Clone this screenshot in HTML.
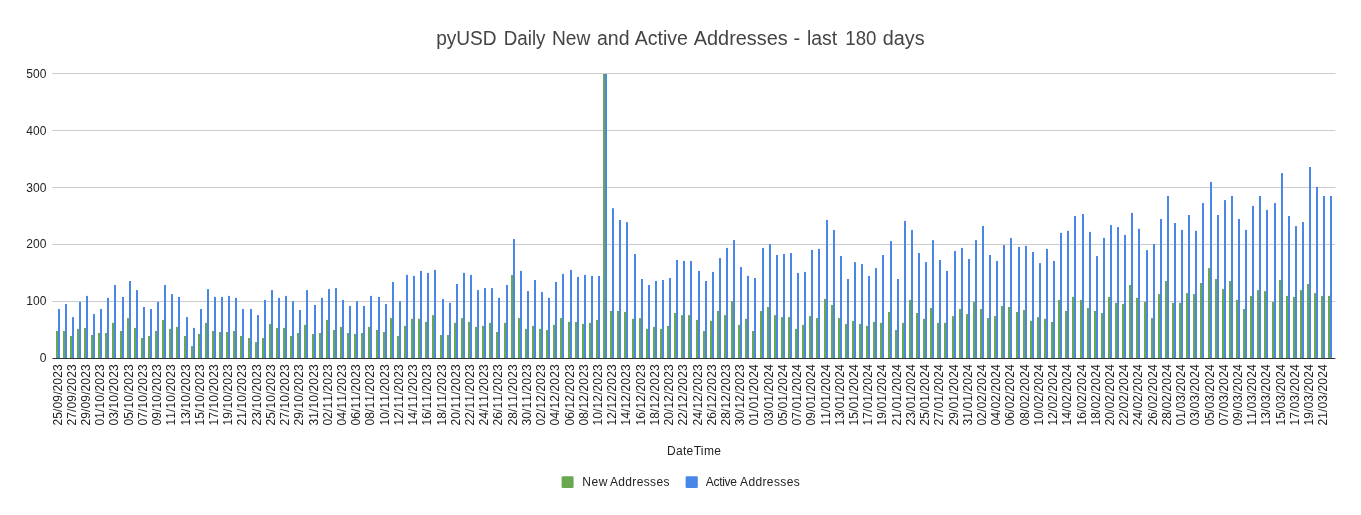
<!DOCTYPE html>
<html><head><meta charset="utf-8"><title>pyUSD Daily New and Active Addresses</title>
<style>html,body{margin:0;padding:0;background:#fff;overflow:hidden}svg{display:block}text{font-family:"Liberation Sans",Arial,sans-serif}</style></head><body>
<svg width="1361" height="515" viewBox="0 0 1361 515">
<rect width="1361" height="515" fill="#ffffff"/>
<text y="44.8" font-size="20" fill="#444444"><tspan x="436.16" textLength="60.49" lengthAdjust="spacingAndGlyphs">pyUSD</tspan> <tspan x="503.81" textLength="41.63" lengthAdjust="spacingAndGlyphs">Daily</tspan> <tspan x="551.88" textLength="38.38" lengthAdjust="spacingAndGlyphs">New</tspan> <tspan x="597.01" textLength="32.53" lengthAdjust="spacingAndGlyphs">and</tspan> <tspan x="634.63" textLength="53.25" lengthAdjust="spacingAndGlyphs">Active</tspan> <tspan x="693.75" textLength="93.94" lengthAdjust="spacingAndGlyphs">Addresses</tspan> <tspan x="793.54" textLength="6.67" lengthAdjust="spacingAndGlyphs">-</tspan> <tspan x="806.94" textLength="30.18" lengthAdjust="spacingAndGlyphs">last</tspan> <tspan x="845.35" textLength="31.05" lengthAdjust="spacingAndGlyphs">180</tspan> <tspan x="882.72" textLength="41.85" lengthAdjust="spacingAndGlyphs">days</tspan></text>
<g fill="#cccccc">
<rect x="52.4" y="301" width="1283" height="1"/>
<rect x="52.4" y="244" width="1283" height="1"/>
<rect x="52.4" y="187" width="1283" height="1"/>
<rect x="52.4" y="130" width="1283" height="1"/>
<rect x="52.4" y="73" width="1283" height="1"/>
</g>
<g fill="#6aa84f">
<rect x="56" y="331.0" width="2" height="27.5"/>
<rect x="63" y="331.0" width="2" height="27.5"/>
<rect x="70" y="336.0" width="2" height="22.5"/>
<rect x="77" y="328.9" width="2" height="29.6"/>
<rect x="84" y="327.9" width="2" height="30.6"/>
<rect x="91" y="335.0" width="2" height="23.5"/>
<rect x="98" y="333.0" width="2" height="25.5"/>
<rect x="105" y="333.0" width="2" height="25.5"/>
<rect x="112" y="322.9" width="2" height="35.6"/>
<rect x="120" y="331.0" width="2" height="27.5"/>
<rect x="127" y="318.1" width="2" height="40.4"/>
<rect x="134" y="327.9" width="2" height="30.6"/>
<rect x="141" y="338.0" width="2" height="20.5"/>
<rect x="148" y="336.0" width="2" height="22.5"/>
<rect x="155" y="331.0" width="2" height="27.5"/>
<rect x="162" y="319.9" width="2" height="38.6"/>
<rect x="169" y="328.9" width="2" height="29.6"/>
<rect x="176" y="326.9" width="2" height="31.6"/>
<rect x="184" y="336.0" width="2" height="22.5"/>
<rect x="191" y="346.1" width="2" height="12.4"/>
<rect x="198" y="334.0" width="2" height="24.5"/>
<rect x="205" y="322.9" width="2" height="35.6"/>
<rect x="212" y="331.0" width="2" height="27.5"/>
<rect x="219" y="332.0" width="2" height="26.5"/>
<rect x="226" y="332.0" width="2" height="26.5"/>
<rect x="233" y="331.0" width="2" height="27.5"/>
<rect x="240" y="336.0" width="2" height="22.5"/>
<rect x="248" y="338.0" width="2" height="20.5"/>
<rect x="255" y="342.1" width="2" height="16.4"/>
<rect x="262" y="338.0" width="2" height="20.5"/>
<rect x="269" y="323.9" width="2" height="34.6"/>
<rect x="276" y="327.9" width="2" height="30.6"/>
<rect x="283" y="327.9" width="2" height="30.6"/>
<rect x="290" y="336.0" width="2" height="22.5"/>
<rect x="297" y="333.0" width="2" height="25.5"/>
<rect x="304" y="324.9" width="2" height="33.6"/>
<rect x="312" y="334.0" width="2" height="24.5"/>
<rect x="319" y="333.0" width="2" height="25.5"/>
<rect x="326" y="319.9" width="2" height="38.6"/>
<rect x="333" y="330.0" width="2" height="28.5"/>
<rect x="340" y="326.9" width="2" height="31.6"/>
<rect x="347" y="333.0" width="2" height="25.5"/>
<rect x="354" y="334.0" width="2" height="24.5"/>
<rect x="361" y="333.0" width="2" height="25.5"/>
<rect x="368" y="326.9" width="2" height="31.6"/>
<rect x="376" y="330.0" width="2" height="28.5"/>
<rect x="383" y="332.0" width="2" height="26.5"/>
<rect x="390" y="318.1" width="2" height="40.4"/>
<rect x="397" y="336.0" width="2" height="22.5"/>
<rect x="404" y="325.9" width="2" height="32.6"/>
<rect x="411" y="318.8" width="2" height="39.7"/>
<rect x="418" y="318.8" width="2" height="39.7"/>
<rect x="425" y="321.9" width="2" height="36.6"/>
<rect x="432" y="315.1" width="2" height="43.4"/>
<rect x="440" y="335.0" width="2" height="23.5"/>
<rect x="447" y="335.0" width="2" height="23.5"/>
<rect x="454" y="322.9" width="2" height="35.6"/>
<rect x="461" y="318.1" width="2" height="40.4"/>
<rect x="468" y="321.9" width="2" height="36.6"/>
<rect x="475" y="326.9" width="2" height="31.6"/>
<rect x="482" y="325.9" width="2" height="32.6"/>
<rect x="489" y="322.9" width="2" height="35.6"/>
<rect x="496" y="332.0" width="2" height="26.5"/>
<rect x="504" y="322.9" width="2" height="35.6"/>
<rect x="511" y="274.9" width="2" height="83.6"/>
<rect x="518" y="318.1" width="2" height="40.4"/>
<rect x="525" y="328.9" width="2" height="29.6"/>
<rect x="532" y="325.9" width="2" height="32.6"/>
<rect x="539" y="328.9" width="2" height="29.6"/>
<rect x="546" y="330.0" width="2" height="28.5"/>
<rect x="553" y="324.9" width="2" height="33.6"/>
<rect x="560" y="318.1" width="2" height="40.4"/>
<rect x="568" y="321.9" width="2" height="36.6"/>
<rect x="575" y="321.9" width="2" height="36.6"/>
<rect x="582" y="323.9" width="2" height="34.6"/>
<rect x="589" y="322.9" width="2" height="35.6"/>
<rect x="596" y="319.9" width="2" height="38.6"/>
<rect x="603" y="74" width="2" height="284.5"/>
<rect x="610" y="311.0" width="2" height="47.5"/>
<rect x="617" y="311.0" width="2" height="47.5"/>
<rect x="624" y="312.0" width="2" height="46.5"/>
<rect x="632" y="318.8" width="2" height="39.7"/>
<rect x="639" y="318.1" width="2" height="40.4"/>
<rect x="646" y="328.9" width="2" height="29.6"/>
<rect x="653" y="326.9" width="2" height="31.6"/>
<rect x="660" y="328.9" width="2" height="29.6"/>
<rect x="667" y="325.9" width="2" height="32.6"/>
<rect x="674" y="313.0" width="2" height="45.5"/>
<rect x="681" y="315.1" width="2" height="43.4"/>
<rect x="688" y="315.1" width="2" height="43.4"/>
<rect x="696" y="319.9" width="2" height="38.6"/>
<rect x="703" y="331.0" width="2" height="27.5"/>
<rect x="710" y="320.9" width="2" height="37.6"/>
<rect x="717" y="311.0" width="2" height="47.5"/>
<rect x="724" y="315.1" width="2" height="43.4"/>
<rect x="731" y="301.2" width="2" height="57.3"/>
<rect x="738" y="324.9" width="2" height="33.6"/>
<rect x="745" y="318.8" width="2" height="39.7"/>
<rect x="752" y="331.0" width="2" height="27.5"/>
<rect x="760" y="311.0" width="2" height="47.5"/>
<rect x="767" y="307.0" width="2" height="51.5"/>
<rect x="774" y="315.1" width="2" height="43.4"/>
<rect x="781" y="317.1" width="2" height="41.4"/>
<rect x="788" y="317.1" width="2" height="41.4"/>
<rect x="795" y="328.9" width="2" height="29.6"/>
<rect x="802" y="324.9" width="2" height="33.6"/>
<rect x="809" y="316.1" width="2" height="42.4"/>
<rect x="816" y="318.1" width="2" height="40.4"/>
<rect x="824" y="298.9" width="2" height="59.6"/>
<rect x="831" y="305.0" width="2" height="53.5"/>
<rect x="838" y="318.1" width="2" height="40.4"/>
<rect x="845" y="323.9" width="2" height="34.6"/>
<rect x="852" y="320.9" width="2" height="37.6"/>
<rect x="859" y="323.9" width="2" height="34.6"/>
<rect x="866" y="325.9" width="2" height="32.6"/>
<rect x="873" y="321.9" width="2" height="36.6"/>
<rect x="880" y="322.9" width="2" height="35.6"/>
<rect x="888" y="312.0" width="2" height="46.5"/>
<rect x="895" y="330.0" width="2" height="28.5"/>
<rect x="902" y="322.9" width="2" height="35.6"/>
<rect x="909" y="299.9" width="2" height="58.6"/>
<rect x="916" y="313.0" width="2" height="45.5"/>
<rect x="923" y="318.8" width="2" height="39.7"/>
<rect x="930" y="308.0" width="2" height="50.5"/>
<rect x="937" y="322.9" width="2" height="35.6"/>
<rect x="944" y="322.9" width="2" height="35.6"/>
<rect x="952" y="316.1" width="2" height="42.4"/>
<rect x="959" y="309.0" width="2" height="49.5"/>
<rect x="966" y="314.1" width="2" height="44.4"/>
<rect x="973" y="301.9" width="2" height="56.6"/>
<rect x="980" y="309.0" width="2" height="49.5"/>
<rect x="987" y="318.1" width="2" height="40.4"/>
<rect x="994" y="316.1" width="2" height="42.4"/>
<rect x="1001" y="306.0" width="2" height="52.5"/>
<rect x="1008" y="307.0" width="2" height="51.5"/>
<rect x="1016" y="312.0" width="2" height="46.5"/>
<rect x="1023" y="310.0" width="2" height="48.5"/>
<rect x="1030" y="320.9" width="2" height="37.6"/>
<rect x="1037" y="317.1" width="2" height="41.4"/>
<rect x="1044" y="318.8" width="2" height="39.7"/>
<rect x="1051" y="321.9" width="2" height="36.6"/>
<rect x="1058" y="299.9" width="2" height="58.6"/>
<rect x="1065" y="311.0" width="2" height="47.5"/>
<rect x="1072" y="296.9" width="2" height="61.6"/>
<rect x="1080" y="299.9" width="2" height="58.6"/>
<rect x="1087" y="308.0" width="2" height="50.5"/>
<rect x="1094" y="311.0" width="2" height="47.5"/>
<rect x="1101" y="313.0" width="2" height="45.5"/>
<rect x="1108" y="296.9" width="2" height="61.6"/>
<rect x="1115" y="302.9" width="2" height="55.6"/>
<rect x="1122" y="304.0" width="2" height="54.5"/>
<rect x="1129" y="285.0" width="2" height="73.5"/>
<rect x="1136" y="297.9" width="2" height="60.6"/>
<rect x="1144" y="301.9" width="2" height="56.6"/>
<rect x="1151" y="318.1" width="2" height="40.4"/>
<rect x="1158" y="294.1" width="2" height="64.4"/>
<rect x="1165" y="281.0" width="2" height="77.5"/>
<rect x="1172" y="302.9" width="2" height="55.6"/>
<rect x="1179" y="302.9" width="2" height="55.6"/>
<rect x="1186" y="293.1" width="2" height="65.4"/>
<rect x="1193" y="294.1" width="2" height="64.4"/>
<rect x="1200" y="283.0" width="2" height="75.5"/>
<rect x="1208" y="268.1" width="2" height="90.4"/>
<rect x="1215" y="279.0" width="2" height="79.5"/>
<rect x="1222" y="289.1" width="2" height="69.4"/>
<rect x="1229" y="281.0" width="2" height="77.5"/>
<rect x="1236" y="299.9" width="2" height="58.6"/>
<rect x="1243" y="309.0" width="2" height="49.5"/>
<rect x="1250" y="295.9" width="2" height="62.6"/>
<rect x="1257" y="290.1" width="2" height="68.4"/>
<rect x="1264" y="291.1" width="2" height="67.4"/>
<rect x="1272" y="301.9" width="2" height="56.6"/>
<rect x="1279" y="280.0" width="2" height="78.5"/>
<rect x="1286" y="295.9" width="2" height="62.6"/>
<rect x="1293" y="296.9" width="2" height="61.6"/>
<rect x="1300" y="290.1" width="2" height="68.4"/>
<rect x="1307" y="284.0" width="2" height="74.5"/>
<rect x="1314" y="293.1" width="2" height="65.4"/>
<rect x="1321" y="295.9" width="2" height="62.6"/>
<rect x="1328" y="295.9" width="2" height="62.6"/>
</g>
<g fill="#4a86e8">
<rect x="58" y="309.0" width="2" height="49.5"/>
<rect x="65" y="304.0" width="2" height="54.5"/>
<rect x="72" y="317.1" width="2" height="41.4"/>
<rect x="79" y="301.9" width="2" height="56.6"/>
<rect x="86" y="295.9" width="2" height="62.6"/>
<rect x="93" y="314.1" width="2" height="44.4"/>
<rect x="100" y="309.0" width="2" height="49.5"/>
<rect x="107" y="297.9" width="2" height="60.6"/>
<rect x="114" y="285.0" width="2" height="73.5"/>
<rect x="122" y="296.9" width="2" height="61.6"/>
<rect x="129" y="281.0" width="2" height="77.5"/>
<rect x="136" y="290.1" width="2" height="68.4"/>
<rect x="143" y="307.0" width="2" height="51.5"/>
<rect x="150" y="309.0" width="2" height="49.5"/>
<rect x="157" y="301.9" width="2" height="56.6"/>
<rect x="164" y="285.0" width="2" height="73.5"/>
<rect x="171" y="294.1" width="2" height="64.4"/>
<rect x="178" y="296.9" width="2" height="61.6"/>
<rect x="186" y="317.1" width="2" height="41.4"/>
<rect x="193" y="327.9" width="2" height="30.6"/>
<rect x="200" y="309.0" width="2" height="49.5"/>
<rect x="207" y="289.1" width="2" height="69.4"/>
<rect x="214" y="296.9" width="2" height="61.6"/>
<rect x="221" y="296.9" width="2" height="61.6"/>
<rect x="228" y="295.9" width="2" height="62.6"/>
<rect x="235" y="297.9" width="2" height="60.6"/>
<rect x="242" y="309.0" width="2" height="49.5"/>
<rect x="250" y="309.0" width="2" height="49.5"/>
<rect x="257" y="315.1" width="2" height="43.4"/>
<rect x="264" y="299.9" width="2" height="58.6"/>
<rect x="271" y="290.1" width="2" height="68.4"/>
<rect x="278" y="297.9" width="2" height="60.6"/>
<rect x="285" y="295.9" width="2" height="62.6"/>
<rect x="292" y="301.2" width="2" height="57.3"/>
<rect x="299" y="310.0" width="2" height="48.5"/>
<rect x="306" y="290.1" width="2" height="68.4"/>
<rect x="314" y="305.0" width="2" height="53.5"/>
<rect x="321" y="297.9" width="2" height="60.6"/>
<rect x="328" y="289.1" width="2" height="69.4"/>
<rect x="335" y="288.1" width="2" height="70.4"/>
<rect x="342" y="299.9" width="2" height="58.6"/>
<rect x="349" y="306.0" width="2" height="52.5"/>
<rect x="356" y="301.2" width="2" height="57.3"/>
<rect x="363" y="306.0" width="2" height="52.5"/>
<rect x="370" y="295.9" width="2" height="62.6"/>
<rect x="378" y="296.9" width="2" height="61.6"/>
<rect x="385" y="304.0" width="2" height="54.5"/>
<rect x="392" y="282.0" width="2" height="76.5"/>
<rect x="399" y="301.2" width="2" height="57.3"/>
<rect x="406" y="274.9" width="2" height="83.6"/>
<rect x="413" y="275.9" width="2" height="82.6"/>
<rect x="420" y="270.9" width="2" height="87.6"/>
<rect x="427" y="272.9" width="2" height="85.6"/>
<rect x="434" y="269.9" width="2" height="88.6"/>
<rect x="442" y="298.9" width="2" height="59.6"/>
<rect x="449" y="302.9" width="2" height="55.6"/>
<rect x="456" y="284.0" width="2" height="74.5"/>
<rect x="463" y="272.9" width="2" height="85.6"/>
<rect x="470" y="274.9" width="2" height="83.6"/>
<rect x="477" y="290.1" width="2" height="68.4"/>
<rect x="484" y="288.1" width="2" height="70.4"/>
<rect x="491" y="288.1" width="2" height="70.4"/>
<rect x="498" y="297.9" width="2" height="60.6"/>
<rect x="506" y="285.0" width="2" height="73.5"/>
<rect x="513" y="239.1" width="2" height="119.4"/>
<rect x="520" y="270.9" width="2" height="87.6"/>
<rect x="527" y="291.1" width="2" height="67.4"/>
<rect x="534" y="280.0" width="2" height="78.5"/>
<rect x="541" y="292.1" width="2" height="66.4"/>
<rect x="548" y="297.9" width="2" height="60.6"/>
<rect x="555" y="282.0" width="2" height="76.5"/>
<rect x="562" y="273.9" width="2" height="84.6"/>
<rect x="570" y="269.9" width="2" height="88.6"/>
<rect x="577" y="276.9" width="2" height="81.6"/>
<rect x="584" y="274.9" width="2" height="83.6"/>
<rect x="591" y="275.9" width="2" height="82.6"/>
<rect x="598" y="275.9" width="2" height="82.6"/>
<rect x="605" y="74" width="2" height="284.5"/>
<rect x="612" y="208.2" width="2" height="150.3"/>
<rect x="619" y="220.0" width="2" height="138.5"/>
<rect x="626" y="222.2" width="2" height="136.3"/>
<rect x="634" y="254.0" width="2" height="104.5"/>
<rect x="641" y="279.0" width="2" height="79.5"/>
<rect x="648" y="285.0" width="2" height="73.5"/>
<rect x="655" y="281.0" width="2" height="77.5"/>
<rect x="662" y="280.0" width="2" height="78.5"/>
<rect x="669" y="278.0" width="2" height="80.5"/>
<rect x="676" y="260.0" width="2" height="98.5"/>
<rect x="683" y="261.0" width="2" height="97.5"/>
<rect x="690" y="261.0" width="2" height="97.5"/>
<rect x="698" y="270.9" width="2" height="87.6"/>
<rect x="705" y="281.0" width="2" height="77.5"/>
<rect x="712" y="271.9" width="2" height="86.6"/>
<rect x="719" y="258.0" width="2" height="100.5"/>
<rect x="726" y="247.9" width="2" height="110.6"/>
<rect x="733" y="240.1" width="2" height="118.4"/>
<rect x="740" y="267.1" width="2" height="91.4"/>
<rect x="747" y="275.9" width="2" height="82.6"/>
<rect x="754" y="278.0" width="2" height="80.5"/>
<rect x="762" y="247.9" width="2" height="110.6"/>
<rect x="769" y="244.1" width="2" height="114.4"/>
<rect x="776" y="255.0" width="2" height="103.5"/>
<rect x="783" y="254.0" width="2" height="104.5"/>
<rect x="790" y="253.0" width="2" height="105.5"/>
<rect x="797" y="272.9" width="2" height="85.6"/>
<rect x="804" y="271.9" width="2" height="86.6"/>
<rect x="811" y="249.9" width="2" height="108.6"/>
<rect x="818" y="248.9" width="2" height="109.6"/>
<rect x="826" y="219.9" width="2" height="138.6"/>
<rect x="833" y="230.0" width="2" height="128.5"/>
<rect x="840" y="256.0" width="2" height="102.5"/>
<rect x="847" y="279.0" width="2" height="79.5"/>
<rect x="854" y="262.1" width="2" height="96.4"/>
<rect x="861" y="264.1" width="2" height="94.4"/>
<rect x="868" y="275.9" width="2" height="82.6"/>
<rect x="875" y="268.1" width="2" height="90.4"/>
<rect x="882" y="255.0" width="2" height="103.5"/>
<rect x="890" y="241.1" width="2" height="117.4"/>
<rect x="897" y="279.0" width="2" height="79.5"/>
<rect x="904" y="220.9" width="2" height="137.6"/>
<rect x="911" y="230.0" width="2" height="128.5"/>
<rect x="918" y="253.0" width="2" height="105.5"/>
<rect x="925" y="262.1" width="2" height="96.4"/>
<rect x="932" y="240.1" width="2" height="118.4"/>
<rect x="939" y="260.0" width="2" height="98.5"/>
<rect x="946" y="270.9" width="2" height="87.6"/>
<rect x="954" y="251.0" width="2" height="107.5"/>
<rect x="961" y="247.9" width="2" height="110.6"/>
<rect x="968" y="259.0" width="2" height="99.5"/>
<rect x="975" y="240.1" width="2" height="118.4"/>
<rect x="982" y="226.0" width="2" height="132.5"/>
<rect x="989" y="255.0" width="2" height="103.5"/>
<rect x="996" y="261.0" width="2" height="97.5"/>
<rect x="1003" y="245.1" width="2" height="113.4"/>
<rect x="1010" y="238.1" width="2" height="120.4"/>
<rect x="1018" y="246.9" width="2" height="111.6"/>
<rect x="1025" y="245.9" width="2" height="112.6"/>
<rect x="1032" y="252.0" width="2" height="106.5"/>
<rect x="1039" y="263.1" width="2" height="95.4"/>
<rect x="1046" y="248.9" width="2" height="109.6"/>
<rect x="1053" y="261.0" width="2" height="97.5"/>
<rect x="1060" y="232.9" width="2" height="125.6"/>
<rect x="1067" y="230.9" width="2" height="127.6"/>
<rect x="1074" y="216.0" width="2" height="142.5"/>
<rect x="1082" y="214.0" width="2" height="144.5"/>
<rect x="1089" y="231.9" width="2" height="126.6"/>
<rect x="1096" y="256.1" width="2" height="102.4"/>
<rect x="1103" y="237.9" width="2" height="120.6"/>
<rect x="1110" y="225.1" width="2" height="133.4"/>
<rect x="1117" y="227.1" width="2" height="131.4"/>
<rect x="1124" y="234.9" width="2" height="123.6"/>
<rect x="1131" y="212.9" width="2" height="145.6"/>
<rect x="1138" y="228.8" width="2" height="129.7"/>
<rect x="1146" y="250.1" width="2" height="108.4"/>
<rect x="1153" y="244.0" width="2" height="114.5"/>
<rect x="1160" y="219.0" width="2" height="139.5"/>
<rect x="1167" y="196.0" width="2" height="162.5"/>
<rect x="1174" y="223.0" width="2" height="135.5"/>
<rect x="1181" y="229.9" width="2" height="128.6"/>
<rect x="1188" y="215.0" width="2" height="143.5"/>
<rect x="1195" y="230.9" width="2" height="127.6"/>
<rect x="1202" y="203.1" width="2" height="155.4"/>
<rect x="1210" y="181.9" width="2" height="176.6"/>
<rect x="1217" y="215.0" width="2" height="143.5"/>
<rect x="1224" y="200.1" width="2" height="158.4"/>
<rect x="1231" y="196.0" width="2" height="162.5"/>
<rect x="1238" y="219.0" width="2" height="139.5"/>
<rect x="1245" y="229.9" width="2" height="128.6"/>
<rect x="1252" y="205.9" width="2" height="152.6"/>
<rect x="1259" y="196.0" width="2" height="162.5"/>
<rect x="1266" y="209.9" width="2" height="148.6"/>
<rect x="1274" y="203.1" width="2" height="155.4"/>
<rect x="1281" y="173.1" width="2" height="185.4"/>
<rect x="1288" y="216.0" width="2" height="142.5"/>
<rect x="1295" y="226.1" width="2" height="132.4"/>
<rect x="1302" y="222.0" width="2" height="136.5"/>
<rect x="1309" y="167.0" width="2" height="191.5"/>
<rect x="1316" y="186.9" width="2" height="171.6"/>
<rect x="1323" y="196.0" width="2" height="162.5"/>
<rect x="1330" y="196.0" width="2" height="162.5"/>
</g>
<rect x="52.4" y="358" width="1283" height="1" fill="#333333"/>
<g font-size="12" fill="#222222" text-anchor="end">
<text x="46.4" y="362.2">0</text>
<text x="46.4" y="305.2">100</text>
<text x="46.4" y="248.2">200</text>
<text x="46.4" y="192.2">300</text>
<text x="46.4" y="135.2">400</text>
<text x="46.4" y="78.2">500</text>
</g>
<g font-size="12" fill="#222222" letter-spacing="0.11" style="font-kerning:none">
<text transform="translate(62.3 425.45) rotate(-90)">25/09/2023</text>
<text transform="translate(76.3 425.45) rotate(-90)">27/09/2023</text>
<text transform="translate(90.3 425.45) rotate(-90)">29/09/2023</text>
<text transform="translate(104.3 425.45) rotate(-90)">01/10/2023</text>
<text transform="translate(118.3 425.45) rotate(-90)">03/10/2023</text>
<text transform="translate(133.3 425.45) rotate(-90)">05/10/2023</text>
<text transform="translate(147.3 425.45) rotate(-90)">07/10/2023</text>
<text transform="translate(161.3 425.45) rotate(-90)">09/10/2023</text>
<text transform="translate(175.3 425.45) rotate(-90)">11/10/2023</text>
<text transform="translate(190.3 425.45) rotate(-90)">13/10/2023</text>
<text transform="translate(204.3 425.45) rotate(-90)">15/10/2023</text>
<text transform="translate(218.3 425.45) rotate(-90)">17/10/2023</text>
<text transform="translate(232.3 425.45) rotate(-90)">19/10/2023</text>
<text transform="translate(246.3 425.45) rotate(-90)">21/10/2023</text>
<text transform="translate(261.3 425.45) rotate(-90)">23/10/2023</text>
<text transform="translate(275.3 425.45) rotate(-90)">25/10/2023</text>
<text transform="translate(289.3 425.45) rotate(-90)">27/10/2023</text>
<text transform="translate(303.3 425.45) rotate(-90)">29/10/2023</text>
<text transform="translate(318.3 425.45) rotate(-90)">31/10/2023</text>
<text transform="translate(332.3 425.45) rotate(-90)">02/11/2023</text>
<text transform="translate(346.3 425.45) rotate(-90)">04/11/2023</text>
<text transform="translate(360.3 425.45) rotate(-90)">06/11/2023</text>
<text transform="translate(374.3 425.45) rotate(-90)">08/11/2023</text>
<text transform="translate(389.3 425.45) rotate(-90)">10/11/2023</text>
<text transform="translate(403.3 425.45) rotate(-90)">12/11/2023</text>
<text transform="translate(417.3 425.45) rotate(-90)">14/11/2023</text>
<text transform="translate(431.3 425.45) rotate(-90)">16/11/2023</text>
<text transform="translate(446.3 425.45) rotate(-90)">18/11/2023</text>
<text transform="translate(460.3 425.45) rotate(-90)">20/11/2023</text>
<text transform="translate(474.3 425.45) rotate(-90)">22/11/2023</text>
<text transform="translate(488.3 425.45) rotate(-90)">24/11/2023</text>
<text transform="translate(502.3 425.45) rotate(-90)">26/11/2023</text>
<text transform="translate(517.3 425.45) rotate(-90)">28/11/2023</text>
<text transform="translate(531.3 425.45) rotate(-90)">30/11/2023</text>
<text transform="translate(545.3 425.45) rotate(-90)">02/12/2023</text>
<text transform="translate(559.3 425.45) rotate(-90)">04/12/2023</text>
<text transform="translate(574.3 425.45) rotate(-90)">06/12/2023</text>
<text transform="translate(588.3 425.45) rotate(-90)">08/12/2023</text>
<text transform="translate(602.3 425.45) rotate(-90)">10/12/2023</text>
<text transform="translate(616.3 425.45) rotate(-90)">12/12/2023</text>
<text transform="translate(630.3 425.45) rotate(-90)">14/12/2023</text>
<text transform="translate(645.3 425.45) rotate(-90)">16/12/2023</text>
<text transform="translate(659.3 425.45) rotate(-90)">18/12/2023</text>
<text transform="translate(673.3 425.45) rotate(-90)">20/12/2023</text>
<text transform="translate(687.3 425.45) rotate(-90)">22/12/2023</text>
<text transform="translate(702.3 425.45) rotate(-90)">24/12/2023</text>
<text transform="translate(716.3 425.45) rotate(-90)">26/12/2023</text>
<text transform="translate(730.3 425.45) rotate(-90)">28/12/2023</text>
<text transform="translate(744.3 425.45) rotate(-90)">30/12/2023</text>
<text transform="translate(758.3 425.45) rotate(-90)">01/01/2024</text>
<text transform="translate(773.3 425.45) rotate(-90)">03/01/2024</text>
<text transform="translate(787.3 425.45) rotate(-90)">05/01/2024</text>
<text transform="translate(801.3 425.45) rotate(-90)">07/01/2024</text>
<text transform="translate(815.3 425.45) rotate(-90)">09/01/2024</text>
<text transform="translate(830.3 425.45) rotate(-90)">11/01/2024</text>
<text transform="translate(844.3 425.45) rotate(-90)">13/01/2024</text>
<text transform="translate(858.3 425.45) rotate(-90)">15/01/2024</text>
<text transform="translate(872.3 425.45) rotate(-90)">17/01/2024</text>
<text transform="translate(886.3 425.45) rotate(-90)">19/01/2024</text>
<text transform="translate(901.3 425.45) rotate(-90)">21/01/2024</text>
<text transform="translate(915.3 425.45) rotate(-90)">23/01/2024</text>
<text transform="translate(929.3 425.45) rotate(-90)">25/01/2024</text>
<text transform="translate(943.3 425.45) rotate(-90)">27/01/2024</text>
<text transform="translate(958.3 425.45) rotate(-90)">29/01/2024</text>
<text transform="translate(972.3 425.45) rotate(-90)">31/01/2024</text>
<text transform="translate(986.3 425.45) rotate(-90)">02/02/2024</text>
<text transform="translate(1000.3 425.45) rotate(-90)">04/02/2024</text>
<text transform="translate(1014.3 425.45) rotate(-90)">06/02/2024</text>
<text transform="translate(1029.3 425.45) rotate(-90)">08/02/2024</text>
<text transform="translate(1043.3 425.45) rotate(-90)">10/02/2024</text>
<text transform="translate(1057.3 425.45) rotate(-90)">12/02/2024</text>
<text transform="translate(1071.3 425.45) rotate(-90)">14/02/2024</text>
<text transform="translate(1086.3 425.45) rotate(-90)">16/02/2024</text>
<text transform="translate(1100.3 425.45) rotate(-90)">18/02/2024</text>
<text transform="translate(1114.3 425.45) rotate(-90)">20/02/2024</text>
<text transform="translate(1128.3 425.45) rotate(-90)">22/02/2024</text>
<text transform="translate(1142.3 425.45) rotate(-90)">24/02/2024</text>
<text transform="translate(1157.3 425.45) rotate(-90)">26/02/2024</text>
<text transform="translate(1171.3 425.45) rotate(-90)">28/02/2024</text>
<text transform="translate(1185.3 425.45) rotate(-90)">01/03/2024</text>
<text transform="translate(1199.3 425.45) rotate(-90)">03/03/2024</text>
<text transform="translate(1214.3 425.45) rotate(-90)">05/03/2024</text>
<text transform="translate(1228.3 425.45) rotate(-90)">07/03/2024</text>
<text transform="translate(1242.3 425.45) rotate(-90)">09/03/2024</text>
<text transform="translate(1256.3 425.45) rotate(-90)">11/03/2024</text>
<text transform="translate(1270.3 425.45) rotate(-90)">13/03/2024</text>
<text transform="translate(1285.3 425.45) rotate(-90)">15/03/2024</text>
<text transform="translate(1299.3 425.45) rotate(-90)">17/03/2024</text>
<text transform="translate(1313.3 425.45) rotate(-90)">19/03/2024</text>
<text transform="translate(1327.3 425.45) rotate(-90)">21/03/2024</text>
</g>
<text x="666.9" y="454.8" font-size="12" fill="#222222" textLength="54" lengthAdjust="spacing">DateTime</text>
<rect x="561.6" y="476.2" width="12" height="11.8" rx="1.2" fill="#6aa84f"/>
<text y="486.3" font-size="12" fill="#222222"><tspan x="582.3" textLength="25.1" lengthAdjust="spacing">New</tspan> <tspan x="609.9" textLength="59.6" lengthAdjust="spacing">Addresses</tspan></text>
<rect x="685.6" y="476.2" width="12.2" height="11.8" rx="1.2" fill="#4a86e8"/>
<text y="486.3" font-size="12" fill="#222222"><tspan x="705.8" textLength="31.2" lengthAdjust="spacing">Active</tspan> <tspan x="740.0" textLength="59.7" lengthAdjust="spacing">Addresses</tspan></text>
</svg></body></html>
